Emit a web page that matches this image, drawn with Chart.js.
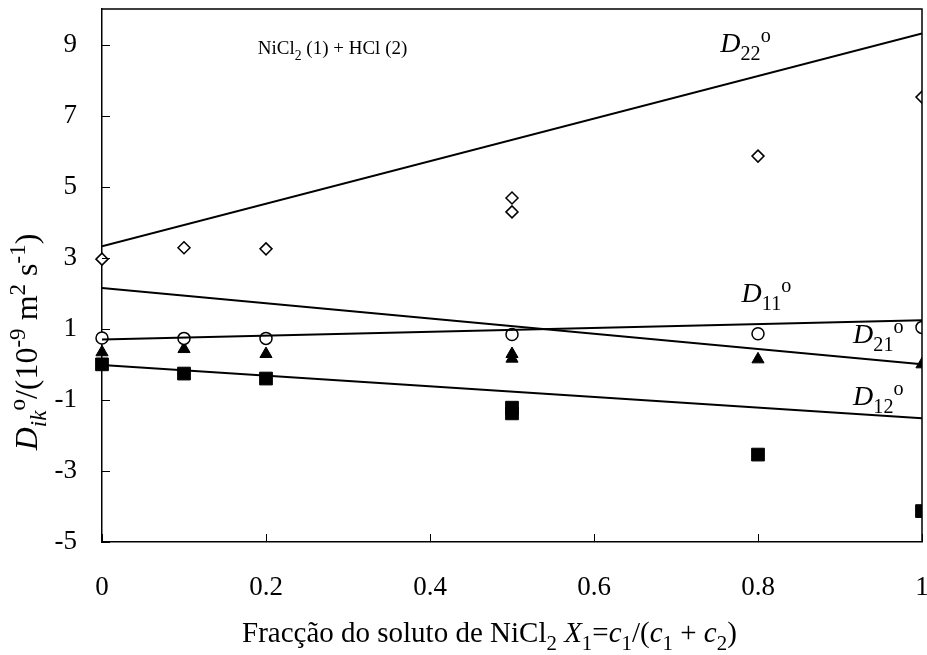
<!DOCTYPE html>
<html>
<head>
<meta charset="utf-8">
<script src="https://cdn.jsdelivr.net/npm/chart.js@4.4.0/dist/chart.umd.min.js"></script>
<style>
  html, body { margin: 0; padding: 0; background: #fff; }
  #wrap { width: 927px; height: 655px; }
</style>
</head>
<body>
<div id="wrap"><canvas id="myChart"></canvas></div>
<script>
const xTicks = [0, 0.2, 0.4, 0.6, 0.8, 1];
const xTickLabels = ['0', '0.2', '0.4', '0.6', '0.8', '1'];
const yTicks = [-5, -3, -1, 1, 3, 5, 7, 9];

// measured points
const xD22 = [0, 0.1, 0.2, 0.5, 0.5, 0.8, 1];
const yD22 = [2.96, 3.28, 3.25, 4.68, 4.29, 5.86, 7.52];
const xD21 = [0, 0.1, 0.2, 0.5, 0.8, 1];
const yD21 = [0.74, 0.73, 0.73, 0.84, 0.86, 1.04];
const xD11 = [0, 0.1, 0.2, 0.5, 0.5, 0.8, 1];
const yD11 = [0.34, 0.43, 0.29, 0.29, 0.16, 0.14, 0.0];
const xD12 = [0, 0.1, 0.2, 0.5, 0.5, 0.8, 1];
const yD12 = [0.0, -0.26, -0.40, -1.22, -1.38, -2.54, -4.13];

// straight lines, values at x = 0 and x = 1
const lineX = [0, 1];
const lineD22 = [3.32, 9.31];
const lineD11 = [2.15, 0.0];
const lineD21 = [0.70, 1.24];
const lineD12 = [-0.02, -1.52];

const pts = (xs, ys) => xs.map((x, i) => ({ x: x, y: ys[i] }));

const serif = '"Liberation Serif", "Times New Roman", serif';

// rich text: parts with sub/sup/italic
function richWidth(ctx, parts, size) {
    let w = 0;
    parts.forEach(p => {
        const s = (p.sub || p.sup) ? size * 0.72 : size;
        ctx.font = (p.it ? 'italic ' : '') + s + 'px ' + serif;
        w += ctx.measureText(p.t).width;
    });
    return w;
}
function drawRich(ctx, parts, x, y, size) {
    let cx = x;
    parts.forEach(p => {
        const s = (p.sub || p.sup) ? size * 0.72 : size;
        ctx.font = (p.it ? 'italic ' : '') + s + 'px ' + serif;
        const dy = p.sub ? size * 0.28 : (p.sup ? -size * 0.38 : 0);
        ctx.fillText(p.t, cx, y + dy);
        cx += ctx.measureText(p.t).width;
    });
}

const dLabel = sub => [{ t: 'D', it: true }, { t: sub, sub: true }, { t: 'o', sup: true }];

// label anchors in data units (left / baseline)
const notes = [
    { parts: dLabel('22'), x: 0.754, y: 8.78, size: 28 },
    { parts: dLabel('11'), x: 0.780, y: 1.75, size: 28 },
    { parts: dLabel('21'), x: 0.916, y: 0.59, size: 28 },
    { parts: dLabel('12'), x: 0.916, y: -1.15, size: 28 },
    { parts: [{ t: 'NiCl' }, { t: '2', sub: true }, { t: ' (1) + HCl (2)' }], x: 0.190, y: 8.72, size: 19 }
];

const xTitle = [
    { t: 'Fracção do soluto de NiCl' }, { t: '2', sub: true }, { t: ' ' },
    { t: 'X', it: true }, { t: '1', sub: true }, { t: '=' },
    { t: 'c', it: true }, { t: '1', sub: true }, { t: '/(' },
    { t: 'c', it: true }, { t: '1', sub: true }, { t: ' + ' },
    { t: 'c', it: true }, { t: '2', sub: true }, { t: ')' }
];
const yTitle = [
    { t: 'D', it: true }, { t: 'ik', it: true, sub: true }, { t: 'o', sup: true },
    { t: '/(10' }, { t: '-9', sup: true }, { t: ' m' }, { t: '2', sup: true },
    { t: ' s' }, { t: '-1', sup: true }, { t: ')' }
];

const noPad = s => { s.paddingLeft = 0; s.paddingRight = 0; s.paddingTop = 0; s.paddingBottom = 0; };

const decor = {
    id: 'decor',
    afterDraw(chart) {
        const ctx = chart.ctx;
        const a = chart.chartArea;
        const xs = chart.scales.x, ys = chart.scales.y;
        ctx.save();
        ctx.strokeStyle = '#000';
        ctx.lineWidth = 1.5;
        // top and right frame
        ctx.beginPath();
        ctx.moveTo(a.left, a.top);
        ctx.lineTo(a.right, a.top);
        ctx.lineTo(a.right, a.bottom);
        ctx.stroke();
        // inward tick marks
        ctx.lineWidth = 1;
        ctx.beginPath();
        yTicks.forEach(v => {
            const py = Math.round(ys.getPixelForValue(v)) + 0.5;
            ctx.moveTo(a.left, py);
            ctx.lineTo(a.left + 8, py);
        });
        xTicks.forEach(v => {
            const px = Math.round(xs.getPixelForValue(v)) + 0.5;
            ctx.moveTo(px, a.bottom);
            ctx.lineTo(px, a.bottom - 8);
        });
        ctx.stroke();

        ctx.fillStyle = '#000';
        ctx.textBaseline = 'alphabetic';
        ctx.textAlign = 'left';
        notes.forEach(n => {
            drawRich(ctx, n.parts, xs.getPixelForValue(n.x), ys.getPixelForValue(n.y), n.size);
        });

        // x axis title
        drawRich(ctx, xTitle, a.left + 140, 642, 29);

        // y axis title, rotated
        const w = richWidth(ctx, yTitle, 32);
        ctx.translate(37, 342);
        ctx.rotate(-Math.PI / 2);
        drawRich(ctx, yTitle, -w / 2, 0, 32);
        ctx.restore();
    }
};

const ctx = document.getElementById('myChart').getContext('2d');
const myChart = new Chart(ctx, {
    type: 'scatter',
    data: {
        datasets: [
            { data: pts(lineX, lineD22), showLine: true, borderColor: '#000', borderWidth: 2, pointRadius: 0 },
            { data: pts(lineX, lineD11), showLine: true, borderColor: '#000', borderWidth: 2, pointRadius: 0 },
            { data: pts(lineX, lineD21), showLine: true, borderColor: '#000', borderWidth: 2, pointRadius: 0 },
            { data: pts(lineX, lineD12), showLine: true, borderColor: '#000', borderWidth: 2, pointRadius: 0 },
            {
                data: pts(xD22, yD22), pointStyle: 'rectRot', pointRadius: 6,
                backgroundColor: '#fff', borderColor: '#000', borderWidth: 1.5,
                clip: { left: false, top: false, right: 0, bottom: false }
            },
            {
                data: pts(xD21, yD21), pointStyle: 'circle', pointRadius: 6,
                backgroundColor: '#fff', borderColor: '#000', borderWidth: 1.5,
                clip: { left: false, top: false, right: 0, bottom: false }
            },
            {
                data: pts(xD11, yD11), pointStyle: 'triangle', pointRadius: 7,
                backgroundColor: '#000', borderColor: '#000', borderWidth: 1,
                clip: { left: false, top: false, right: 0, bottom: false }
            },
            {
                data: pts(xD12, yD12), pointStyle: 'rect', pointRadius: 9,
                backgroundColor: '#000', borderColor: '#000', borderWidth: 1,
                clip: { left: false, top: false, right: 0, bottom: false }
            }
        ]
    },
    options: {
        responsive: true,
        maintainAspectRatio: false,
        animation: false,
        devicePixelRatio: 1,
        layout: { autoPadding: false, padding: { top: 9, right: 5, left: 0, bottom: 0 } },
        plugins: { legend: { display: false }, tooltip: { enabled: false } },
        scales: {
            x: {
                type: 'linear',
                min: 0,
                max: 1,
                afterBuildTicks: s => { s.ticks = xTicks.map(v => ({ value: v })); },
                afterFit: s => { s.height = 113; noPad(s); },
                grid: { display: false, drawTicks: false },
                border: { color: '#000', width: 1.5 },
                ticks: {
                    color: '#000',
                    font: { family: serif, size: 27 },
                    padding: 30,
                    maxRotation: 0,
                    callback: (v, i) => xTickLabels[i]
                }
            },
            y: {
                type: 'linear',
                min: -5,
                max: 10,
                afterBuildTicks: s => { s.ticks = yTicks.map(v => ({ value: v })); },
                afterFit: s => { s.width = 102; noPad(s); },
                grid: { display: false, drawTicks: false },
                border: { color: '#000', width: 1.5 },
                ticks: {
                    color: '#000',
                    font: { family: serif, size: 27 },
                    padding: 25,
                    callback: v => String(v)
                }
            }
        }
    },
    plugins: [decor]
});
</script>
</body>
</html>
